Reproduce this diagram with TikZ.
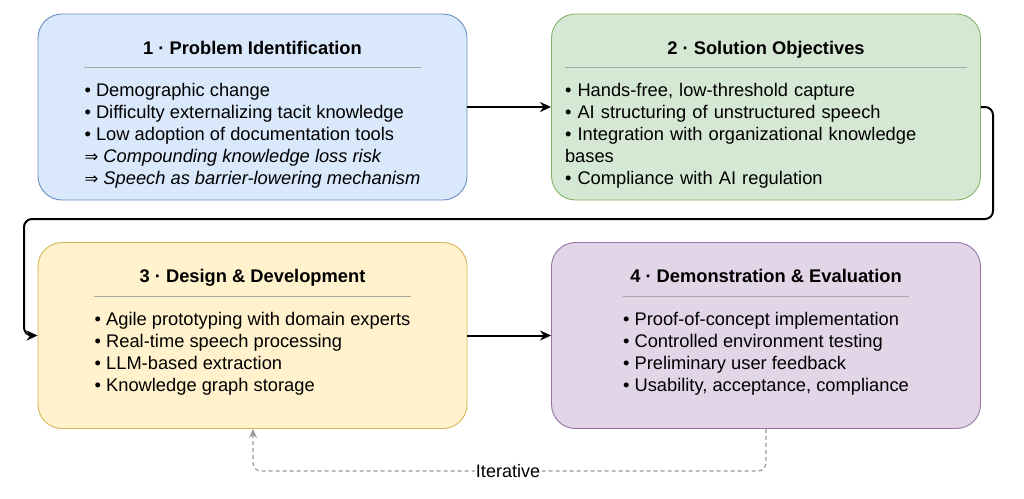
\documentclass[tikz,border=0pt]{standalone}
\usepackage{fontspec}
\setmainfont{Liberation Sans}
\newfontfamily\symfont{DejaVu Sans}
\usetikzlibrary{arrows.meta,calc}
\definecolor{bfill}{HTML}{DAE8FC}\definecolor{bdraw}{HTML}{6C8EBF}
\definecolor{gfill}{HTML}{D5E8D4}\definecolor{gdraw}{HTML}{82B366}
\definecolor{yfill}{HTML}{FFF2CC}\definecolor{ydraw}{HTML}{D6B656}
\definecolor{pfill}{HTML}{E1D5E7}\definecolor{pdraw}{HTML}{9673A6}
\definecolor{sepc}{HTML}{A8A8A8}
\definecolor{itc}{HTML}{9A9A9A}
\newcommand{\impl}{{\symfont\fontsize{16.5}{22}\selectfont ⇒}}
\begin{document}
\begin{tikzpicture}[x=1pt,y=-1pt,
  phase/.style={draw, rounded corners=24pt, line width=0.9pt, minimum width=429pt, minimum height=186pt, inner sep=0pt},
  ptitle/.style={font=\fontsize{18.3}{22}\selectfont\bfseries, anchor=base, inner sep=0pt},
  pbody/.style={font=\fontsize{18.3}{22}\selectfont, align=left, anchor=north, inner sep=0pt},
  sepline/.style={draw=sepc, line width=0.9pt},
  flow/.style={draw=black, line width=2pt, rounded corners=8pt, -{Stealth[length=11pt,width=10pt]}},
  iter/.style={draw=itc, line width=1.2pt, dashed, dash pattern=on 4pt off 3pt, rounded corners=8pt, -{Stealth[length=9pt,width=8pt]}},
  itlabel/.style={fill=white, inner sep=1pt, font=\fontsize{18}{20}\selectfont}
]
\useasboundingbox (0,0) rectangle (1024,498);

% boxes
\node[phase, fill=bfill, draw=bdraw] (p1) at (252.5,107) {};
\node[phase, fill=gfill, draw=gdraw] (p2) at (766,107) {};
\node[phase, fill=yfill, draw=ydraw] (p3) at (252.5,335.5) {};
\node[phase, fill=pfill, draw=pdraw] (p4) at (766,335.5) {};

% titles
\node[ptitle] (t1) at (252.5,54) {1 · Problem Identification};
\node[ptitle] (t2) at (766,54) {2 · Solution Objectives};
\node[ptitle] (t3) at (252.5,282) {3 · Design \& Development};
\node[ptitle] (t4) at (766,282) {4 · Demonstration \& Evaluation};

% bodies
\node[pbody] (b1) at (252.5,83.2) {• Demographic change\\• Difficulty externalizing tacit knowledge\\• Low adoption of documentation tools\\\impl\ \textit{Compounding knowledge loss risk}\\\impl\ \textit{Speech as barrier-lowering mechanism}};
\node[pbody, text width=402pt] (b2) at (766,83.2) {• Hands-free, low-threshold capture\\• AI structuring of unstructured speech\\• Integration with organizational knowledge\\bases\\• Compliance with AI regulation};
\node[pbody] (b3) at (252.5,312) {• Agile prototyping with domain experts\\• Real-time speech processing\\• LLM-based extraction\\• Knowledge graph storage};
\node[pbody] (b4) at (766,312) {• Proof-of-concept implementation\\• Controlled environment testing\\• Preliminary user feedback\\• Usability, acceptance, compliance};

% separators
\foreach \b in {b1,b2,b3,b4}
  \draw[sepline] ([yshift=16pt]\b.north west) -- ([yshift=16pt]\b.north east);

% flow connectors
\coordinate (r1) at (993,219);
\coordinate (l1) at (24,219);
\draw[flow] (p1.east) -- (p2.west);
\draw[flow] (p2.east) -- (p2.east -| r1) -- (r1) -- (l1) -- (l1 |- p3.west) -- (p3.west);
\draw[flow] (p3.east) -- (p4.west);

% iterative loop
\coordinate (il) at (253,471);
\coordinate (ir) at (766,471);
\draw[iter] (p4.south -| ir) -- (ir) -- (il) -- (il |- p3.south);
\node[itlabel] (it) at (508,471) {Iterative};
\end{tikzpicture}
\end{document}
